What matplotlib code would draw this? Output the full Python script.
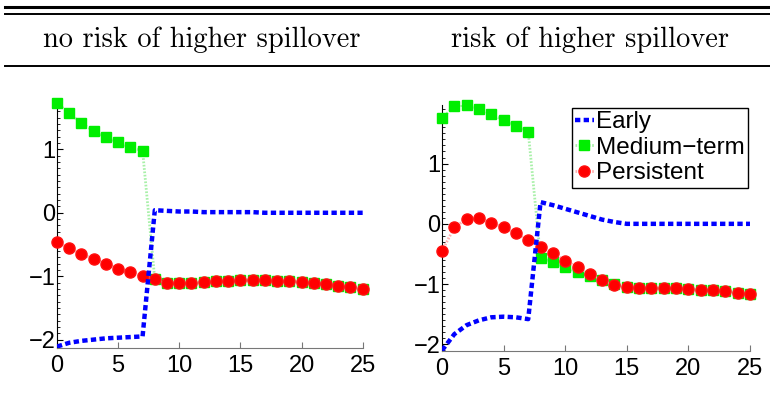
import numpy as np
import matplotlib.pyplot as plt
from matplotlib.ticker import MultipleLocator

periods = np.arange(0, 26)

# no risk of higher spillover
early_a = [-2.11, -2.05, -2.02, -2.00, -1.98, -1.97, -1.96, -1.95, 0.04, 0.03,
           0.02, 0.02, 0.01, 0.01, 0.01, 0.01, 0.01, 0.0, 0.0, 0.0,
           0.0, 0.0, 0.0, 0.0, 0.0, 0.0]
medium_a = [1.73, 1.57, 1.41, 1.29, 1.19, 1.11, 1.03, 0.98, -1.05, -1.10,
            -1.11, -1.10, -1.09, -1.08, -1.07, -1.06, -1.06, -1.06, -1.07, -1.08,
            -1.09, -1.11, -1.13, -1.15, -1.17, -1.20]
persist_a = [-0.46, -0.56, -0.65, -0.73, -0.80, -0.88, -0.94, -1.00, -1.05, -1.10,
             -1.11, -1.10, -1.09, -1.08, -1.07, -1.06, -1.06, -1.06, -1.07, -1.08,
             -1.09, -1.11, -1.13, -1.15, -1.17, -1.20]

# risk of higher spillover
early_b = [-2.10, -1.83, -1.68, -1.60, -1.55, -1.54, -1.55, -1.58, 0.36, 0.31,
           0.25, 0.19, 0.13, 0.07, 0.03, 0.0, 0.0, 0.0, 0.0, 0.0,
           0.0, 0.0, 0.0, 0.0, 0.0, 0.0]
medium_b = [1.75, 1.95, 1.97, 1.91, 1.82, 1.72, 1.63, 1.53, -0.56, -0.64,
            -0.72, -0.80, -0.87, -0.93, -1.00, -1.04, -1.06, -1.06, -1.07, -1.07,
            -1.08, -1.09, -1.10, -1.12, -1.14, -1.17]
persist_b = [-0.45, -0.06, 0.08, 0.09, 0.02, -0.06, -0.16, -0.27, -0.38, -0.49,
             -0.61, -0.72, -0.83, -0.93, -1.01, -1.05, -1.06, -1.06, -1.07, -1.07,
             -1.08, -1.09, -1.10, -1.12, -1.14, -1.17]

titles = ["no risk of higher spillover", "risk of higher spillover"]

plt.rcParams['font.family'] = ['Liberation Sans', 'DejaVu Sans']

fig = plt.figure(figsize=(7.7, 4.04), dpi=100)

# header table rules
fig.add_artist(plt.Line2D([0.006, 1.0], [0.982, 0.982], color='black', lw=2.2))
fig.add_artist(plt.Line2D([0.006, 1.0], [0.966, 0.966], color='black', lw=1.4))
fig.add_artist(plt.Line2D([0.006, 1.0], [0.836, 0.836], color='black', lw=1.4))
fig.text(0.262, 0.902, titles[0], family='cmr10', fontsize=20.5, ha='center', va='center')
fig.text(0.766, 0.902, titles[1], family='cmr10', fontsize=20.5, ha='center', va='center')

ax1 = fig.add_axes([0.074, 0.139, 0.397, 0.609])
ax2 = fig.add_axes([0.574, 0.131, 0.400, 0.609])

for ax, early, medium, persist, ylim in [
        (ax1, early_a, medium_a, persist_a, (-2.13, 1.75)),
        (ax2, early_b, medium_b, persist_b, (-2.11, 1.97))]:
    ax.plot(periods, medium, color='#a8f0a8', lw=2, linestyle=(0, (0.6, 0.6)), zorder=2)
    ax.plot(periods, medium, linestyle='none', marker='s', ms=7, color='#00ee00',
            zorder=3, clip_on=False)
    ax.plot(periods, persist, color='#ffb0b0', lw=2, linestyle=(0, (0.6, 0.6)), zorder=4)
    ax.plot(periods, persist, linestyle='none', marker='o', ms=8, color='#ff0000',
            markeredgecolor='#ff1010', zorder=5, clip_on=False)
    ax.plot(periods, early, color='#0000ff', lw=3.2, linestyle=(0, (1.2, 0.75)), zorder=6)
    ax.set_xlim(0, 25)
    ax.set_ylim(*ylim)
    ax.set_xticks([0, 5, 10, 15, 20, 25])
    ax.set_yticks([-2, -1, 0, 1])
    ax.yaxis.set_minor_locator(MultipleLocator(0.1))
    ax.spines['top'].set_visible(False)
    ax.spines['right'].set_visible(False)
    ax.spines['bottom'].set_color('#777777')
    ax.spines['left'].set_color('black')
    ax.tick_params(axis='both', direction='in', labelsize=17)
    ax.tick_params(axis='x', colors='#777777', labelcolor='black', length=4, pad=5)
    ax.tick_params(axis='y', which='major', length=4, pad=1)
    ax.tick_params(axis='y', which='minor', direction='in', length=2)

# legend proxies on the right panel
h1, = ax2.plot([], [], color='#0000ff', lw=3.2, linestyle=(0, (1.2, 0.75)))
h2, = ax2.plot([], [], color='#a8f0a8', lw=2, linestyle=(0, (0.6, 0.6)),
               marker='s', ms=7, mfc='#00ee00', mec='#00ee00')
h3, = ax2.plot([], [], color='#ffb0b0', lw=2, linestyle=(0, (0.6, 0.6)),
               marker='o', ms=8, mfc='#ff0000', mec='#ff1010')
leg = ax2.legend([h1, h2, h3], ['Early', 'Medium\u2212term', 'Persistent'],
                 loc='upper right', bbox_to_anchor=(0.995, 0.99), fontsize=17.5,
                 fancybox=False, framealpha=1, edgecolor='black', handlelength=0.75,
                 handletextpad=0.1, borderpad=0.15, labelspacing=0.15, borderaxespad=0.0)
leg.get_frame().set_linewidth(1.0)

fig.savefig('out.png', dpi=100)
